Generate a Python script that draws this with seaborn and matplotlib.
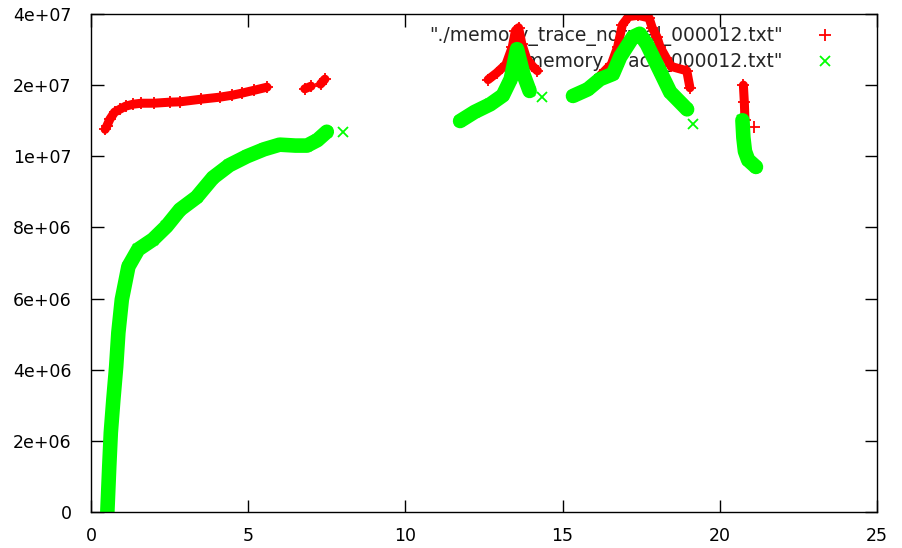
import numpy as np
import pandas as pd
import seaborn as sns
import matplotlib.pyplot as plt
from matplotlib.lines import Line2D

# legend labels (part of the first one is hidden under the data)
red_label = '"./memory_trace_normal_000012.txt"'
green_label = '"./memory_trace_000012.txt"'

# series 1 (red "+"); seg = contiguous run of points
red_x = [0.45, 0.5, 0.6, 0.75, 0.92, 1.1, 1.34, 1.6, 2.0, 2.5, 2.83, 3.5, 4.1, 4.5, 4.8, 5.2, 5.6,
         6.8, 7.0,
         7.3, 7.44,
         12.63, 12.9, 13.2, 13.4, 13.5, 13.6, 13.7, 13.85, 14.05, 14.2,
         16.2, 16.55, 16.75, 16.9, 17.1, 17.4, 17.75, 17.85, 18.0, 18.1, 18.3, 18.45, 18.95, 19.05,
         20.75, 20.78, 20.8,
         21.1]
red_y = [1.30e7, 1.34e7, 1.435e7, 1.537e7, 1.582e7, 1.629e7, 1.661e7, 1.677e7, 1.677e7, 1.694e7, 1.70e7,
         1.744e7, 1.779e7, 1.814e7, 1.85e7, 1.904e7, 1.961e7,
         1.93e7, 1.98e7,
         2.02e7, 2.12e7,
         2.11e7, 2.25e7, 2.45e7, 2.9e7, 3.4e7, 3.5e7, 3.0e7, 2.6e7, 2.4e7, 2.3e7,
         2.2e7, 2.45e7, 2.9e7, 3.6e7, 3.9e7, 3.95e7, 3.85e7, 3.5e7, 3.2e7, 2.9e7, 2.6e7, 2.4e7, 2.3e7, 1.95e7,
         2.0e7, 1.7e7, 1.43e7,
         1.33e7]
red_seg = [0] * 17 + [1] * 2 + [2] * 2 + [3] * 10 + [4] * 14 + [5] * 3 + [6]

# series 2 (green "x")
green_x = [0.52, 0.58, 0.63, 0.71, 0.80, 0.87, 0.98, 1.19, 1.5, 1.97, 2.4, 2.83, 3.36, 3.88, 4.4, 4.96,
           5.5, 6.0, 6.5, 6.87, 7.2, 7.5,
           8.0,
           11.74, 12.2, 12.7, 13.1, 13.35, 13.55, 13.75, 13.95,
           14.34,
           15.33, 15.8, 16.19, 16.6, 16.83, 17.24, 17.45, 17.68, 18.1, 18.42, 18.96,
           19.15,
           20.72, 20.75, 20.8, 20.9, 21.15]
green_y = [0, 1.27e6, 2.23e6, 3.15e6, 4.08e6, 5.04e6, 5.97e6, 6.9e6, 7.38e6, 7.66e6, 8.03e6, 8.5e6,
           8.85e6, 9.4e6, 9.75e6, 1.0e7, 1.07e7, 1.12e7, 1.11e7, 1.11e7, 1.17e7, 1.27e7,
           1.264e7,
           1.41e7, 1.54e7, 1.66e7, 1.81e7, 2.12e7, 2.84e7, 2.23e7, 1.89e7,
           1.78e7,
           1.8e7, 1.92e7, 2.12e7, 2.23e7, 2.63e7, 3.2e7, 3.3e7, 2.98e7, 2.29e7, 1.87e7, 1.58e7,
           1.37e7,
           1.42e7, 1.2e7, 1.05e7, 9.9e6, 9.7e6]
green_seg = [0] * 22 + [1] + [2] * 8 + [3] + [4] * 11 + [5] + [6] * 5

x_ticks = [0, 5, 10, 15, 20, 25]
y_ticks = [0, 2e6, 4e6, 6e6, 8e6, 1e7, 2e7, 4e7]
y_tick_labels = ["0", "2e+06", "4e+06", "6e+06", "8e+06", "1e+07", "2e+07", "4e+07"]

red = pd.DataFrame({"x": red_x, "y": red_y, "seg": red_seg})
green = pd.DataFrame({"x": green_x, "y": green_y, "seg": green_seg})

sns.set_style("ticks")
plt.rcParams["font.family"] = ["DejaVu Sans"]

fig = plt.figure(figsize=(9.03, 5.48), dpi=100)
ax = fig.add_axes([91 / 903, 36 / 548, 786 / 903, 498 / 548])

common = dict(x="x", y="y", units="seg", estimator=None, sort=False, legend=False, ax=ax,
              solid_capstyle="round", solid_joinstyle="round")
sns.lineplot(data=red, color="#ff0000", lw=6.5, marker="+", ms=9, mew=1.3, mec="#ff0000", **common)
sns.lineplot(data=green, color="#00ff00", lw=10.5, marker="x", ms=7, mew=1.3, mec="#00ff00", **common)


# linear up to 1e7, then one tick step per doubling
def fwd(v):
    v = np.asarray(v, dtype=float)
    return np.where(v <= 1e7, v, 1e7 + 2e6 * np.log2(np.maximum(v, 1e7) / 1e7))


def inv(u):
    u = np.asarray(u, dtype=float)
    return np.where(u <= 1e7, u, 1e7 * 2 ** ((np.minimum(u, 1e8) - 1e7) / 2e6))


ax.set_yscale("function", functions=(fwd, inv))
ax.set_xlim(0, 25)
ax.set_ylim(0, 4e7)
ax.set_xticks(x_ticks)
ax.set_xticklabels([str(t) for t in x_ticks])
ax.set_yticks(y_ticks)
ax.set_yticklabels(y_tick_labels)
ax.minorticks_off()
ax.set_xlabel("")
ax.set_ylabel("")
ax.tick_params(direction="in", top=True, right=True, length=9, width=1,
               labelsize=12.5, colors="black")
ax.tick_params(axis="y", pad=14)
ax.tick_params(axis="x", pad=11)
for s in ax.spines.values():
    s.set_color("black")
    s.set_linewidth(1)

handles = [Line2D([], [], color="#ff0000", marker="+", ls="none", ms=9, mew=1.3),
           Line2D([], [], color="#00ff00", marker="x", ls="none", ms=7, mew=1.3)]
leg = ax.legend(handles, [red_label, green_label], loc="upper right",
                bbox_to_anchor=(0.968, 0.975), frameon=False, markerfirst=False,
                handlelength=2.88, handletextpad=0.8, borderpad=0, borderaxespad=0,
                labelspacing=0.3, fontsize=13.5)
leg.set_zorder(1)

fig.savefig("out.png", dpi=100)
